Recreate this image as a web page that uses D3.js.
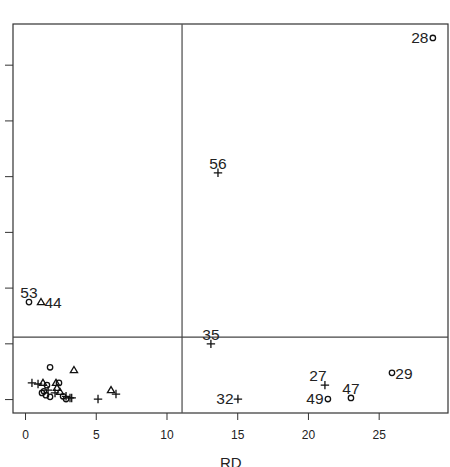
<!DOCTYPE html>
<html>
<head>
<meta charset="utf-8">
<script src="https://cdn.jsdelivr.net/npm/d3@7"></script>
<style>
  body { margin: 0; background: #fff; }
  text { font-family: "Liberation Sans", Arial, sans-serif; fill: #222; }
</style>
</head>
<body>
<div id="chart"></div>
<script>
// values: RD on x, unnamed measure on y
var rd    = [28.83, 13.64, 0.28, 1.13, 13.14, 15.05, 21.2, 21.41, 23.04, 25.94,
             1.77, 3.46, 0.49, 0.92, 1.27, 2.19, 1.55, 2.40, 2.26, 1.34, 1.48, 1.77,
             1.63, 2.47, 2.12, 2.69, 2.9, 2.9, 3.18, 3.3, 1.2, 5.16, 6.08, 6.43];
var yval  = [6.48, 4.06, 1.74, 1.74, 0.99, 0.0, 0.25, 0.0, 0.02, 0.47,
             0.57, 0.52, 0.29, 0.27, 0.29, 0.29, 0.25, 0.29, 0.20, 0.14, 0.07, 0.04,
             0.16, 0.13, 0.11, 0.05, 0.05, 0.0, 0.02, 0.02, 0.11, 0.0, 0.16, 0.09];
var group = ['o', '+', 'o', '^', '+', '+', '+', 'o', 'o', 'o',
             'o', '^', '+', '+', '^', '^', 'o', 'o', '^', 'o', 'o', 'o',
             '+', '^', '+', 'o', '+', 'o', '+', '+', 'o', '+', '^', '+'];
var ids   = ['28', '56', '53', '44', '35', '32', '27', '49', '47', '29'];
var idPos = ['left', 'top', 'top', 'right', 'top', 'left', 'topleft', 'left', 'top', 'right'];
var xTicks = [0, 5, 10, 15, 20, 25];
var yTicks = [0, 1, 2, 3, 4, 5, 6];
var cutX = 11.1, cutY = 1.11;

var width = 450, height = 467;
var margin = { top: 24, right: 2, bottom: 54, left: 13 };
var iWidth = width - margin.left - margin.right,
  iHeight = height - margin.top - margin.bottom;

var xScale = d3.scaleLinear().domain( [ -0.85, 29.9 ] ).range( [ 0, iWidth ] );
var yScale = d3.scaleLinear().domain( [ -0.25, 6.73 ] ).range( [ iHeight, 0 ] );

var svg = d3.select( '#chart' ).append( 'svg' )
  .attr( 'width', width )
  .attr( 'height', height );

var g = svg.append( 'g' )
  .attr( 'transform', 'translate(' + margin.left + ',' + margin.top + ')' );

// x axis
var xAxis = g.append( 'g' )
  .attr( 'transform', 'translate(0,' + iHeight + ')' )
  .call( d3.axisBottom( xScale ).tickValues( xTicks ).tickSize( 7 ).tickPadding( 10 ) );
xAxis.select( '.domain' ).remove();
xAxis.selectAll( 'line' ).attr( 'stroke', '#333' );
xAxis.selectAll( 'text' ).attr( 'font-size', 12 ).attr( 'fill', '#222' )
  .style( 'font-family', '"Liberation Sans", Arial, sans-serif' );

// y axis (labels fall outside the window)
var yAxis = g.append( 'g' )
  .call( d3.axisLeft( yScale ).tickValues( yTicks ).tickSize( 8 ).tickFormat( '' ) );
yAxis.select( '.domain' ).remove();
yAxis.selectAll( 'line' ).attr( 'stroke', '#333' );

// box
g.append( 'rect' )
  .attr( 'width', iWidth ).attr( 'height', iHeight )
  .attr( 'fill', 'none' ).attr( 'stroke', '#333' ).attr( 'stroke-width', 1.2 );

// cut-off lines
g.append( 'line' )
  .attr( 'x1', xScale( cutX ) ).attr( 'x2', xScale( cutX ) )
  .attr( 'y1', 0 ).attr( 'y2', iHeight )
  .attr( 'stroke', '#555' ).attr( 'stroke-width', 1.3 );
g.append( 'line' )
  .attr( 'x1', 0 ).attr( 'x2', iWidth )
  .attr( 'y1', yScale( cutY ) ).attr( 'y2', yScale( cutY ) )
  .attr( 'stroke', '#444' ).attr( 'stroke-width', 1.2 );

// points
var data = rd.map( ( d, i ) => ( { x: d, y: yval[ i ], g: group[ i ] } ) );

var symbolPath = {
  'o': 'M2.7,0A2.7,2.7 0 1,1 -2.7,0A2.7,2.7 0 1,1 2.7,0Z',
  '^': 'M0,-3.6L3.6,2.5L-3.6,2.5Z',
  '+': 'M-4.2,0L4.2,0M0,-4.2L0,4.2'
};

g.selectAll( '.pt' )
  .data( data )
  .enter()
  .append( 'path' )
    .attr( 'class', 'pt' )
    .attr( 'transform', d => 'translate(' + xScale( d.x ) + ',' + yScale( d.y ) + ')' )
    .attr( 'd', d => symbolPath[ d.g ] )
    .attr( 'fill', 'none' )
    .attr( 'stroke', '#111' )
    .attr( 'stroke-width', 1.3 );

// point labels
var offsets = {
  left: [ -13, 5 ], right: [ 12, 6 ], top: [ 0, -4 ], topleft: [ -7, -4 ]
};

g.selectAll( '.lab' )
  .data( ids )
  .enter()
  .append( 'text' )
    .attr( 'class', 'lab' )
    .attr( 'x', ( d, i ) => xScale( rd[ i ] ) + offsets[ idPos[ i ] ][ 0 ] )
    .attr( 'y', ( d, i ) => yScale( yval[ i ] ) + offsets[ idPos[ i ] ][ 1 ] )
    .attr( 'text-anchor', 'middle' )
    .attr( 'font-size', 15.5 )
    .text( d => d );

// axis title
svg.append( 'text' )
  .attr( 'x', margin.left + xScale( 14.55 ) )
  .attr( 'y', 468 )
  .attr( 'text-anchor', 'middle' )
  .attr( 'font-size', 15 )
  .text( 'RD' );
</script>
</body>
</html>
